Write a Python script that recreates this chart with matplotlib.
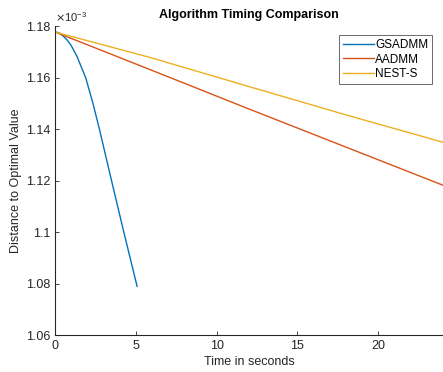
import numpy as np
import matplotlib
matplotlib.use('Agg')
import matplotlib.pyplot as plt
from matplotlib.ticker import FuncFormatter

plt.rcParams['font.family'] = ['Liberation Sans', 'DejaVu Sans']

# values in units of 1e-3
t_gs = [0, 0.25, 0.5, 0.75, 1.0, 1.35, 1.9, 2.35, 2.75, 3.5, 4.26, 5.08]
v_gs = [1.1777, 1.1774, 1.1762, 1.1746, 1.1725, 1.1684, 1.1600, 1.1500,
        1.1400, 1.1200, 1.1000, 1.0790]

t_aa = [0, 6, 12, 18, 24]
v_aa = [1.1777, 1.1628, 1.1478, 1.1330, 1.1182]

t_ne = [0, 6, 12, 18, 24]
v_ne = [1.1777, 1.1676, 1.1565, 1.1455, 1.1349]

labels = ['GSADMM', 'AADMM', 'NEST-S']
colors = ['#0072BD', '#D95319', '#EDB120']

fig = plt.figure(figsize=(4.43, 3.72), dpi=100)
ax = fig.add_axes([0.124, 0.099, 0.876, 0.831])

ax.plot(t_gs, v_gs, color=colors[0], lw=1, label=labels[0])
ax.plot(t_aa, v_aa, color=colors[1], lw=1, label=labels[1])
ax.plot(t_ne, v_ne, color=colors[2], lw=1, label=labels[2])

ax.set_xlim(0, 24)
ax.set_ylim(1.06, 1.18)
ax.set_xticks([0, 5, 10, 15, 20])
ax.set_yticks([1.06, 1.08, 1.10, 1.12, 1.14, 1.16, 1.18])
ax.yaxis.set_major_formatter(FuncFormatter(lambda v, p: '%g' % round(v, 4)))

for s in ['top', 'right']:
    ax.spines[s].set_visible(False)
for s in ['left', 'bottom']:
    ax.spines[s].set_color('#262626')
    ax.spines[s].set_linewidth(0.8)
ax.tick_params(direction='in', length=3, width=0.6, colors='#262626',
               labelsize=9, labelcolor='#262626')

ax.text(0.0, 1.008, r'$\times\mathregular{10^{-3}}$', transform=ax.transAxes,
        fontsize=8, color='#262626', va='bottom', ha='left')

ax.set_title('Algorithm Timing Comparison', fontsize=9, fontweight='bold', pad=6)
ax.set_xlabel('Time in seconds', fontsize=9, color='#262626', labelpad=3)
ax.set_ylabel('Distance to Optimal Value', fontsize=9, color='#262626', labelpad=3)

leg = ax.legend(loc='upper right', bbox_to_anchor=(0.972, 0.97), fontsize=8.5,
                frameon=True, fancybox=False, handlelength=2.6, handletextpad=0.1,
                borderpad=0.35, labelspacing=0.18, borderaxespad=0)
leg.get_frame().set_edgecolor('#262626')
leg.get_frame().set_linewidth(0.6)

fig.savefig('out.png', dpi=100)
